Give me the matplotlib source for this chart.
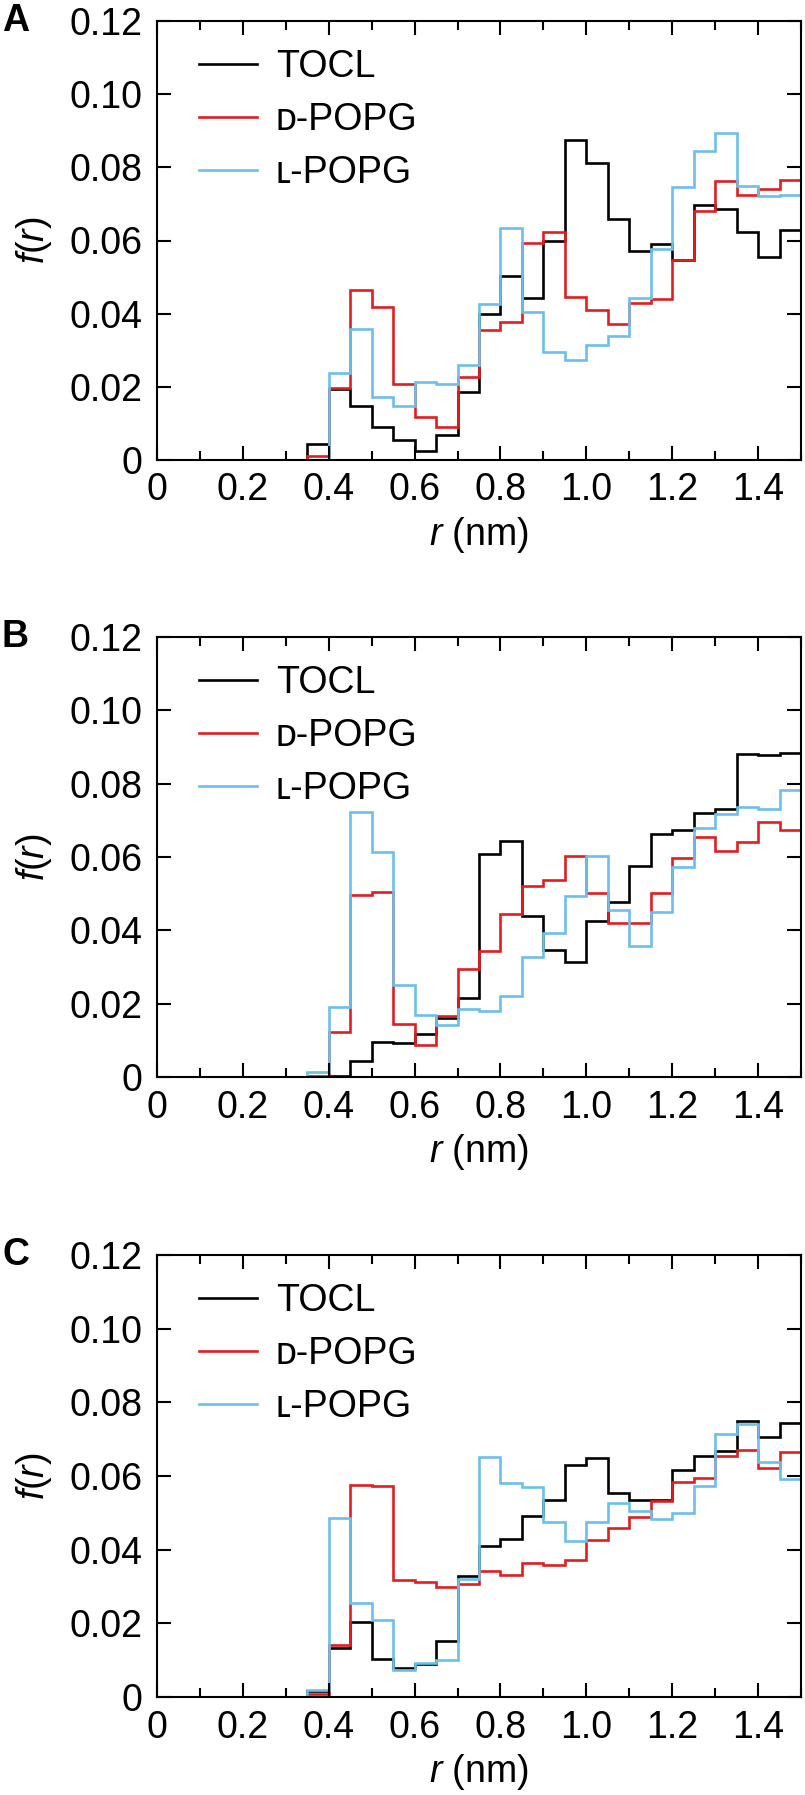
"""Three stacked step histograms of f(r) for TOCL, D-POPG and L-POPG (panels A-C)."""

import matplotlib

matplotlib.use("Agg")
import matplotlib.pyplot as plt  # noqa: E402
import numpy as np  # noqa: E402
from matplotlib.ticker import MultipleLocator  # noqa: E402

plt.rcParams["font.family"] = ["Liberation Sans", "DejaVu Sans"]
plt.rcParams["mathtext.fontset"] = "custom"
plt.rcParams["mathtext.it"] = "Liberation Sans:italic"
plt.rcParams["mathtext.rm"] = "Liberation Sans"

# Bin edges (nm): 0.05-nm bins from 0.35 to 1.50; nothing below 0.35.
BIN_EDGES = [0.35, 0.40, 0.45, 0.50, 0.55, 0.60, 0.65, 0.70, 0.75, 0.80, 0.85, 0.90,
             0.95, 1.00, 1.05, 1.10, 1.15, 1.20, 1.25, 1.30, 1.35, 1.40, 1.45, 1.50]

# Panel A
tocl_a = [0.0043, 0.0194, 0.0147, 0.0091, 0.0055, 0.0025, 0.0068, 0.0187, 0.0399, 0.0504,
          0.0442, 0.0598, 0.0876, 0.0812, 0.0659, 0.0571, 0.0590, 0.0547, 0.0697, 0.0685,
          0.0624, 0.0555, 0.0628]
dpopg_a = [0.0010, 0.0198, 0.0464, 0.0417, 0.0208, 0.0118, 0.0089, 0.0228, 0.0355, 0.0378,
           0.0594, 0.0622, 0.0446, 0.0411, 0.0373, 0.0428, 0.0441, 0.0547, 0.0680, 0.0763,
           0.0724, 0.0740, 0.0765]
lpopg_a = [0.0000, 0.0239, 0.0358, 0.0173, 0.0147, 0.0214, 0.0209, 0.0261, 0.0426, 0.0633,
           0.0405, 0.0294, 0.0273, 0.0314, 0.0339, 0.0442, 0.0578, 0.0745, 0.0845, 0.0894,
           0.0748, 0.0721, 0.0724]

# Panel B
tocl_b = [0.0000, 0.0004, 0.0045, 0.0095, 0.0094, 0.0118, 0.0161, 0.0215, 0.0608, 0.0644,
          0.0440, 0.0347, 0.0315, 0.0426, 0.0478, 0.0575, 0.0662, 0.0675, 0.0721, 0.0730,
          0.0880, 0.0877, 0.0884]
dpopg_b = [0.0004, 0.0122, 0.0496, 0.0505, 0.0144, 0.0088, 0.0167, 0.0294, 0.0344, 0.0445,
           0.0522, 0.0537, 0.0603, 0.0503, 0.0421, 0.0421, 0.0503, 0.0596, 0.0655, 0.0616,
           0.0642, 0.0696, 0.0673]
lpopg_b = [0.0014, 0.0192, 0.0723, 0.0614, 0.0250, 0.0170, 0.0141, 0.0185, 0.0181, 0.0221,
           0.0328, 0.0392, 0.0494, 0.0603, 0.0456, 0.0356, 0.0451, 0.0573, 0.0678, 0.0717,
           0.0737, 0.0730, 0.0782]

# Panel C
tocl_c = [0.0015, 0.0134, 0.0204, 0.0102, 0.0078, 0.0090, 0.0152, 0.0329, 0.0411, 0.0429,
          0.0492, 0.0536, 0.0631, 0.0649, 0.0553, 0.0536, 0.0535, 0.0615, 0.0653, 0.0669,
          0.0749, 0.0707, 0.0743]
dpopg_c = [0.0007, 0.0141, 0.0576, 0.0572, 0.0317, 0.0311, 0.0299, 0.0308, 0.0343, 0.0331,
           0.0364, 0.0358, 0.0373, 0.0427, 0.0458, 0.0488, 0.0533, 0.0583, 0.0595, 0.0655,
           0.0671, 0.0622, 0.0665]
lpopg_c = [0.0020, 0.0486, 0.0255, 0.0208, 0.0072, 0.0093, 0.0100, 0.0320, 0.0651, 0.0581,
           0.0571, 0.0474, 0.0424, 0.0476, 0.0526, 0.0506, 0.0483, 0.0500, 0.0572, 0.0714,
           0.0742, 0.0639, 0.0592]

PANELS = ["A", "B", "C"]
SERIES_LABELS = ["TOCL", "\u1d05-POPG", "\u029f-POPG"]  # small-capital D / L
COLORS = ["black", "#e31d1f", "#6cbfea"]
X_TICKS = [0, 0.2, 0.4, 0.6, 0.8, 1.0, 1.2, 1.4]
X_TICKLABELS = ["0", "0.2", "0.4", "0.6", "0.8", "1.0", "1.2", "1.4"]
Y_TICKS = [0, 0.02, 0.04, 0.06, 0.08, 0.10, 0.12]
Y_TICKLABELS = ["0", "0.02", "0.04", "0.06", "0.08", "0.10", "0.12"]

panel_data = {
    "A": (tocl_a, dpopg_a, lpopg_a),
    "B": (tocl_b, dpopg_b, lpopg_b),
    "C": (tocl_c, dpopg_c, lpopg_c),
}

W, H = 805, 1795
FS = 27
# axes rectangles in pixels: (top, bottom)
AX_PX = {"A": (21, 460), "B": (637, 1077), "C": (1255, 1697)}
LEFT, RIGHT = 157, 801

fig = plt.figure(figsize=(W / 100, H / 100), dpi=100)

for name in PANELS:
    top, bot = AX_PX[name]
    ax = fig.add_axes([LEFT / W, 1 - bot / H, (RIGHT - LEFT) / W, (bot - top) / H])

    # leading zero bin so the first rise at 0.35 nm is drawn from the baseline
    edges = np.r_[0.30, BIN_EDGES]
    for vals, lab, col in zip(panel_data[name], SERIES_LABELS, COLORS):
        ax.stairs(np.r_[0.0, vals], edges, baseline=None, color=col, lw=1.9, label=lab)

    ax.set_xlim(0, 1.5)
    ax.set_ylim(0, 0.12)
    ax.set_xticks(X_TICKS)
    ax.set_xticklabels(X_TICKLABELS)
    ax.xaxis.set_minor_locator(MultipleLocator(0.1))
    ax.set_yticks(Y_TICKS)
    ax.set_yticklabels(Y_TICKLABELS)
    ax.tick_params(which="both", direction="in", top=True, right=True, width=1.5,
                   labelsize=FS)
    ax.tick_params(which="major", length=10)
    ax.tick_params(which="minor", length=6.5)
    ax.tick_params(axis="x", pad=9)
    ax.tick_params(axis="y", pad=10.5)
    for sp in ax.spines.values():
        sp.set_linewidth(1.5)

    ax.set_xlabel("$r$ (nm)", fontsize=FS)
    ax.xaxis.set_label_coords(0.5, -75 / (bot - top))
    ax.xaxis.label.set_va("center")
    ax.set_ylabel("$f$($r$)", fontsize=FS)
    ax.yaxis.set_label_coords(-(LEFT - 34) / (RIGHT - LEFT), 0.5)
    ax.yaxis.label.set_va("center")

    ax.legend(loc="upper left", bbox_to_anchor=(0.065, 0.937), frameon=False,
              fontsize=FS, handlelength=1.55, handletextpad=0.5, labelspacing=0.46,
              borderpad=0, borderaxespad=0)

    ax.text(-(LEFT - 2) / (RIGHT - LEFT), 1.0, name, transform=ax.transAxes,
            fontsize=FS, fontweight="bold", ha="left", va="center")

fig.savefig("out.png", dpi=100)
plt.close(fig)
